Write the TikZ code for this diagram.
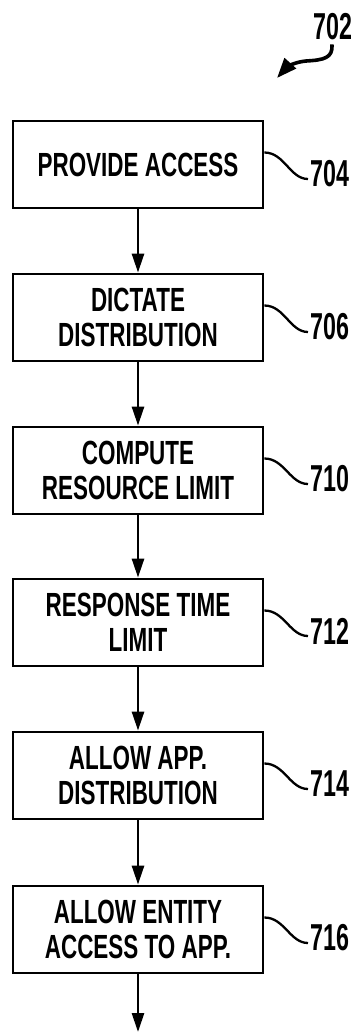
\documentclass[tikz,border=0pt]{standalone}
\usepackage{fontspec}
\usetikzlibrary{arrows.meta}
\newfontfamily\boxfont{Liberation Sans Bold}[FakeStretch=0.67]
\newfontfamily\numfont{Liberation Sans Bold}[FakeStretch=0.62]
\begin{document}
\begin{tikzpicture}[x=1pt,y=-1pt,
  stepbox/.style={draw, line width=2.8pt, minimum width=250pt, minimum height=87pt,
    align=center, inner sep=0pt, font=\boxfont\fontsize{33.5}{35}\selectfont},
  numlabel/.style={inner sep=2pt, anchor=west, font=\numfont\fontsize{37.5}{37.5}\selectfont},
  flow/.style={line width=2.7pt, -{Triangle[length=19pt,width=12pt]}},
  leader/.style={line width=2.3pt},
  bigarrow/.style={line width=3.6pt, -{Triangle[length=20pt,width=15pt]}}]
\useasboundingbox (0,0) rectangle (357,1034);
% boxes
\node[stepbox] (b1) at (138,164.5) {PROVIDE ACCESS};
\node[stepbox] (b2) at (138,317.5) {DICTATE\\DISTRIBUTION};
\node[stepbox] (b3) at (138,470.5) {COMPUTE\\RESOURCE LIMIT};
\node[stepbox] (b4) at (138,622.5) {RESPONSE TIME\\LIMIT};
\node[stepbox] (b5) at (138,775.5) {ALLOW APP.\\DISTRIBUTION};
\node[stepbox] (b6) at (138,929.5) {ALLOW ENTITY\\ACCESS TO APP.};
\coordinate (end) at (138,1032);
% flow arrows
\draw[flow] (b1) -- (b2);
\draw[flow] (b2) -- (b3);
\draw[flow] (b3) -- (b4);
\draw[flow] (b4) -- (b5);
\draw[flow] (b5) -- (b6);
\draw[flow] (b6) -- (end);
% reference labels
\node[numlabel] (l704) at (308,174) {704};
\node[numlabel] (l706) at (308,327) {706};
\node[numlabel] (l710) at (308,479) {710};
\node[numlabel] (l712) at (308,631) {712};
\node[numlabel] (l714) at (308,784) {714};
\node[numlabel] (l716) at (308,938) {716};
\foreach \b/\l in {b1/l704,b2/l706,b3/l710,b4/l712,b5/l714,b6/l716}
  \draw[leader] ([yshift=12pt]\b.east) .. controls +(20pt,0) and +(-18pt,0) .. ([yshift=-5pt]\l.west);
% figure label
\node[inner sep=0pt, font=\numfont\fontsize{37.5}{37.5}\selectfont] (l702) at (333,27) {702};
\coordinate (tip702) at (277,78);
\draw[bigarrow] ([xshift=-1pt,yshift=-4pt]l702.south) .. controls (333,58) and (324,60) .. (306,61)
  .. controls (294,62) and (286,68) .. (tip702);
\end{tikzpicture}
\end{document}
